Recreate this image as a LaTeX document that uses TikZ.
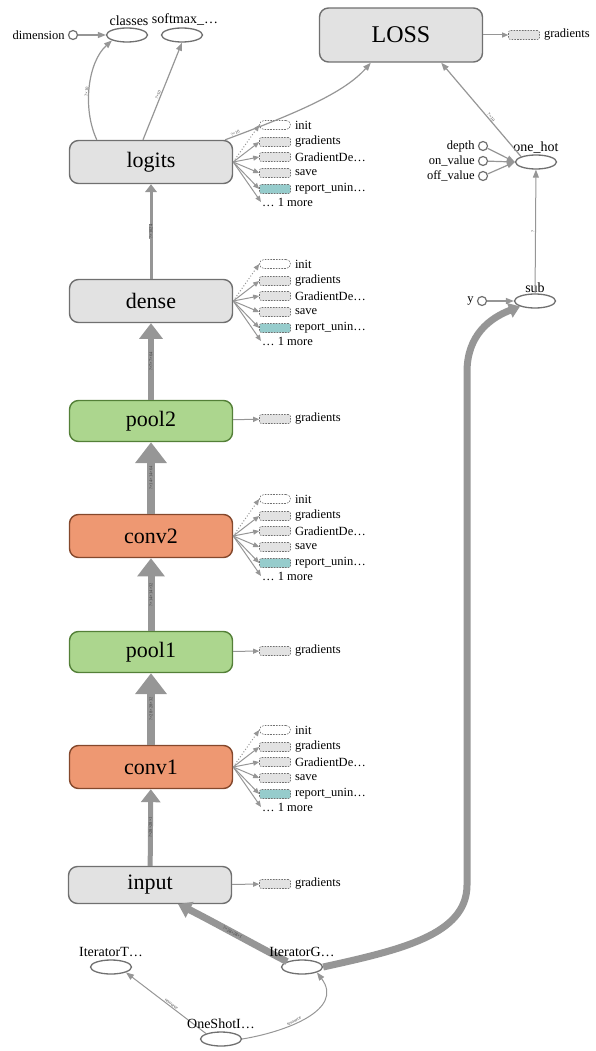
\documentclass[tikz,border=0pt]{standalone}
\usepackage{fontspec}
\setmainfont{Liberation Serif}
\usetikzlibrary{arrows.meta,shapes.geometric,positioning,calc}

\definecolor{opgray}{RGB}{226,226,226}
\definecolor{opborder}{RGB}{112,112,112}
\definecolor{poolfill}{RGB}{172,214,142}
\definecolor{poolborder}{RGB}{84,128,56}
\definecolor{convfill}{RGB}{238,152,114}
\definecolor{convborder}{RGB}{132,72,44}
\definecolor{edgegray}{RGB}{150,150,150}
\definecolor{tealfill}{RGB}{150,204,204}

\tikzset{
  opbox/.style={draw=opborder, fill=opgray, line width=1.4pt, rounded corners=9pt,
    minimum width=163pt, minimum height=43pt, font=\fontsize{22}{24}\selectfont},
  poolbox/.style={opbox, draw=poolborder, fill=poolfill, minimum height=41pt},
  convbox/.style={opbox, draw=convborder, fill=convfill},
  lossbox/.style={opbox, minimum height=54pt, font=\fontsize{24}{26}\selectfont},
  leaf/.style={ellipse, draw=opborder, line width=1.3pt, minimum width=41pt,
    minimum height=14pt, inner sep=0pt},
  constop/.style={circle, draw=opborder, line width=1.2pt, minimum size=9pt, inner sep=0pt},
  smalltxt/.style={font=\fontsize{12.5}{13}\selectfont, inner sep=1pt},
  leaftxt/.style={font=\fontsize{14}{15}\selectfont, inner sep=1pt},
  auxbox/.style={draw=opborder, dash pattern=on 1.6pt off 1.2pt, line width=0.6pt,
    rounded corners=2pt, fill=opgray, minimum width=31pt, minimum height=9pt, inner sep=0pt},
  auxedge/.style={draw=edgegray, line width=1pt, -{Triangle[length=6pt,width=5pt]}},
  edge/.style={draw=edgegray, line width=1.2pt, -{Triangle[length=8pt,width=6pt]}},
  flow/.style={draw=edgegray, line width=#1, -{Triangle[length=0pt 2.6,width=0pt 3.8]}},
  dimlbl/.style={font=\fontsize{4.5}{5}\selectfont, text=black!75, inner sep=0.5pt}
}

% six summary ops next to a layer box
\newcommand{\auxops}[1]{%
  \node[auxbox, fill=white, rounded corners=4.5pt] (#1-init) at ($(#1.center)+(124,-37)$) {};
  \node[auxbox] (#1-grad) at ($(#1.center)+(124,-20)$) {};
  \node[auxbox] (#1-gd) at ($(#1.center)+(124,-5)$) {};
  \node[auxbox] (#1-save) at ($(#1.center)+(124,11)$) {};
  \node[auxbox, fill=tealfill] (#1-rep) at ($(#1.center)+(124,27)$) {};
  \node[smalltxt, anchor=west] (#1-more) at ($(#1.center)+(110,40)$) {\dots\ 1 more};
  \node[smalltxt, right=3pt of #1-init] {init};
  \node[smalltxt, right=3pt of #1-grad] {gradients};
  \node[smalltxt, right=3pt of #1-gd] {GradientDe\dots};
  \node[smalltxt, right=3pt of #1-save] {save};
  \node[smalltxt, right=3pt of #1-rep] {report\_unin\dots};
  \draw[auxedge, dotted] (#1.east) -- (#1-init.west);
  \draw[auxedge] (#1.east) -- (#1-grad.west);
  \draw[auxedge] (#1.east) -- (#1-gd.west);
  \draw[auxedge] (#1.east) -- (#1-save.west);
  \draw[auxedge] (#1.east) -- (#1-rep.west);
  \draw[auxedge] (#1.east) -- (#1-more.west);
}

\begin{document}
\begin{tikzpicture}[x=1pt, y=-1pt]
  \useasboundingbox (0,0) rectangle (596,1051);

  % layers
  \node[lossbox] (loss) at (401,35) {LOSS};
  \node[opbox] (logits) at (151,162) {logits};
  \node[opbox] (dense) at (151,301) {dense};
  \node[poolbox] (pool2) at (151,421) {pool2};
  \node[convbox] (conv2) at (151,536) {conv2};
  \node[poolbox] (pool1) at (151,652) {pool1};
  \node[convbox] (conv1) at (151,767) {conv1};
  \node[opbox, minimum height=37pt] (input) at (150,885) {input};

  \auxops{logits}
  \auxops{dense}
  \auxops{conv2}
  \auxops{conv1}

  % single gradients boxes
  \node[auxbox] (loss-grad) at (524,35) {};
  \node[smalltxt, right=3pt of loss-grad] {gradients};
  \draw[auxedge] (loss) -- (loss-grad);
  \node[auxbox] (pool2-grad) at (275,419) {};
  \node[smalltxt, right=3pt of pool2-grad] {gradients};
  \draw[auxedge] (pool2) -- (pool2-grad);
  \node[auxbox] (pool1-grad) at (275,651) {};
  \node[smalltxt, right=3pt of pool1-grad] {gradients};
  \draw[auxedge] (pool1) -- (pool1-grad);
  \node[auxbox] (input-grad) at (275,884) {};
  \node[smalltxt, right=3pt of input-grad] {gradients};
  \draw[auxedge] (input) -- (input-grad);

  % top outputs
  \node[leaf] (classes) at (127,35) {};
  \node[leaf] (softmax) at (182,35) {};
  \node[leaftxt, above=1pt of classes, xshift=2pt] {classes};
  \node[leaftxt, above=1pt of softmax, xshift=3pt] {softmax\_\dots};
  \node[constop] (dim) at (73,35) {};
  \node[smalltxt, left=2pt of dim] {dimension};
  \draw[edge] (dim) -- (classes);

  % labels side
  \node[leaf] (onehot) at (536,162) {};
  \node[leaftxt, above=0pt of onehot] {one\_hot};
  \node[constop] (depth) at (483,146) {};
  \node[constop] (onval) at (483,161) {};
  \node[constop] (offval) at (483,176) {};
  \node[smalltxt, left=2pt of depth] {depth};
  \node[smalltxt, left=2pt of onval] {on\_value};
  \node[smalltxt, left=2pt of offval] {off\_value};
  \draw[edge] (depth) -- (onehot.west);
  \draw[edge] (onval) -- (onehot.west);
  \draw[edge] (offval) -- (onehot.west);
  \node[leaf] (sub) at (535,301) {};
  \node[leaftxt, above=0pt of sub] {sub};
  \node[constop] (yin) at (482,301) {};
  \node[smalltxt, left=2pt of yin] {y};
  \draw[edge] (yin) -- (sub);
  \draw[edge, line width=1pt] (sub) -- node[dimlbl, sloped, above] {?} (onehot);
  \draw[edge] (onehot.north west) -- node[dimlbl, sloped, above, pos=0.4] {?×10} ($(loss.south east)+(-42,0)$);

  % logits outputs
  \draw[edge] (logits.north west) ++(28,0) .. controls (82,108) and (88,62) .. node[dimlbl, sloped, above, pos=0.45] {?×10} (classes.south west);
  \draw[edge] ($(logits.north)+(-8,0)$) -- node[dimlbl, sloped, above, pos=0.45] {?×10} (softmax.south);
  \draw[edge] ($(logits.north east)+(-8,0)$) .. controls (300,112) and (345,92) .. node[dimlbl, sloped, above, pos=0.05] {?×10} ($(loss.south west)+(52,0)$);

  % main stack
  \draw[flow=3pt] (dense) -- node[dimlbl, rotate=90, fill=edgegray] {?×1024} (logits);
  \draw[flow=6pt] (pool2) -- node[dimlbl, rotate=90, fill=edgegray] {?×7×7×64} (dense);
  \draw[flow=8pt] (conv2) -- node[dimlbl, rotate=90, fill=edgegray] {?×14×14×64} (pool2);
  \draw[flow=7pt] (pool1) -- node[dimlbl, rotate=90, fill=edgegray] {?×14×14×32} (conv2);
  \draw[flow=8pt] (conv1) -- node[dimlbl, rotate=90, fill=edgegray] {?×28×28×32} (pool1);
  \draw[flow=5pt] (input) -- node[dimlbl, rotate=90, fill=edgegray] {?×28×28×1} (conv1);

  % iterator
  \node[leaf] (itert) at (111,967) {};
  \node[leaf] (iterg) at (302,967) {};
  \node[leaf] (oneshot) at (221,1039) {};
  \draw[edge, line width=1pt] (oneshot.north west) -- node[dimlbl, sloped, above, pos=0.45] {resource} (itert.south east);
  \draw[edge, line width=1pt] (oneshot.east) .. controls (285,1032) and (345,1010) .. node[dimlbl, sloped, above, pos=0.4] {resource} (iterg.south east);
  \draw[draw=edgegray, line width=7pt, -{Triangle[length=13pt,width=17pt]}]
    (iterg.north west) .. controls (255,945) and (210,920) .. node[dimlbl, sloped, fill=edgegray] {?×28×28×1} (178,904);
  \coordinate (riserlow) at (467,885);
  \coordinate (riserhigh) at (467,372);
  \draw[draw=edgegray, line width=7pt, -{Triangle[length=11pt,width=15pt]}]
    (iterg.east) .. controls (400,950) and (467,935) .. (riserlow) -- (riserhigh)
    .. controls (467,335) and (490,318) .. (sub.south west);
  \node[leaftxt, above=1pt of itert] {IteratorT\dots};
  \node[leaftxt, above=1pt of iterg] {IteratorG\dots};
  \node[leaftxt, above=1pt of oneshot] {OneShotI\dots};
\end{tikzpicture}
\end{document}
